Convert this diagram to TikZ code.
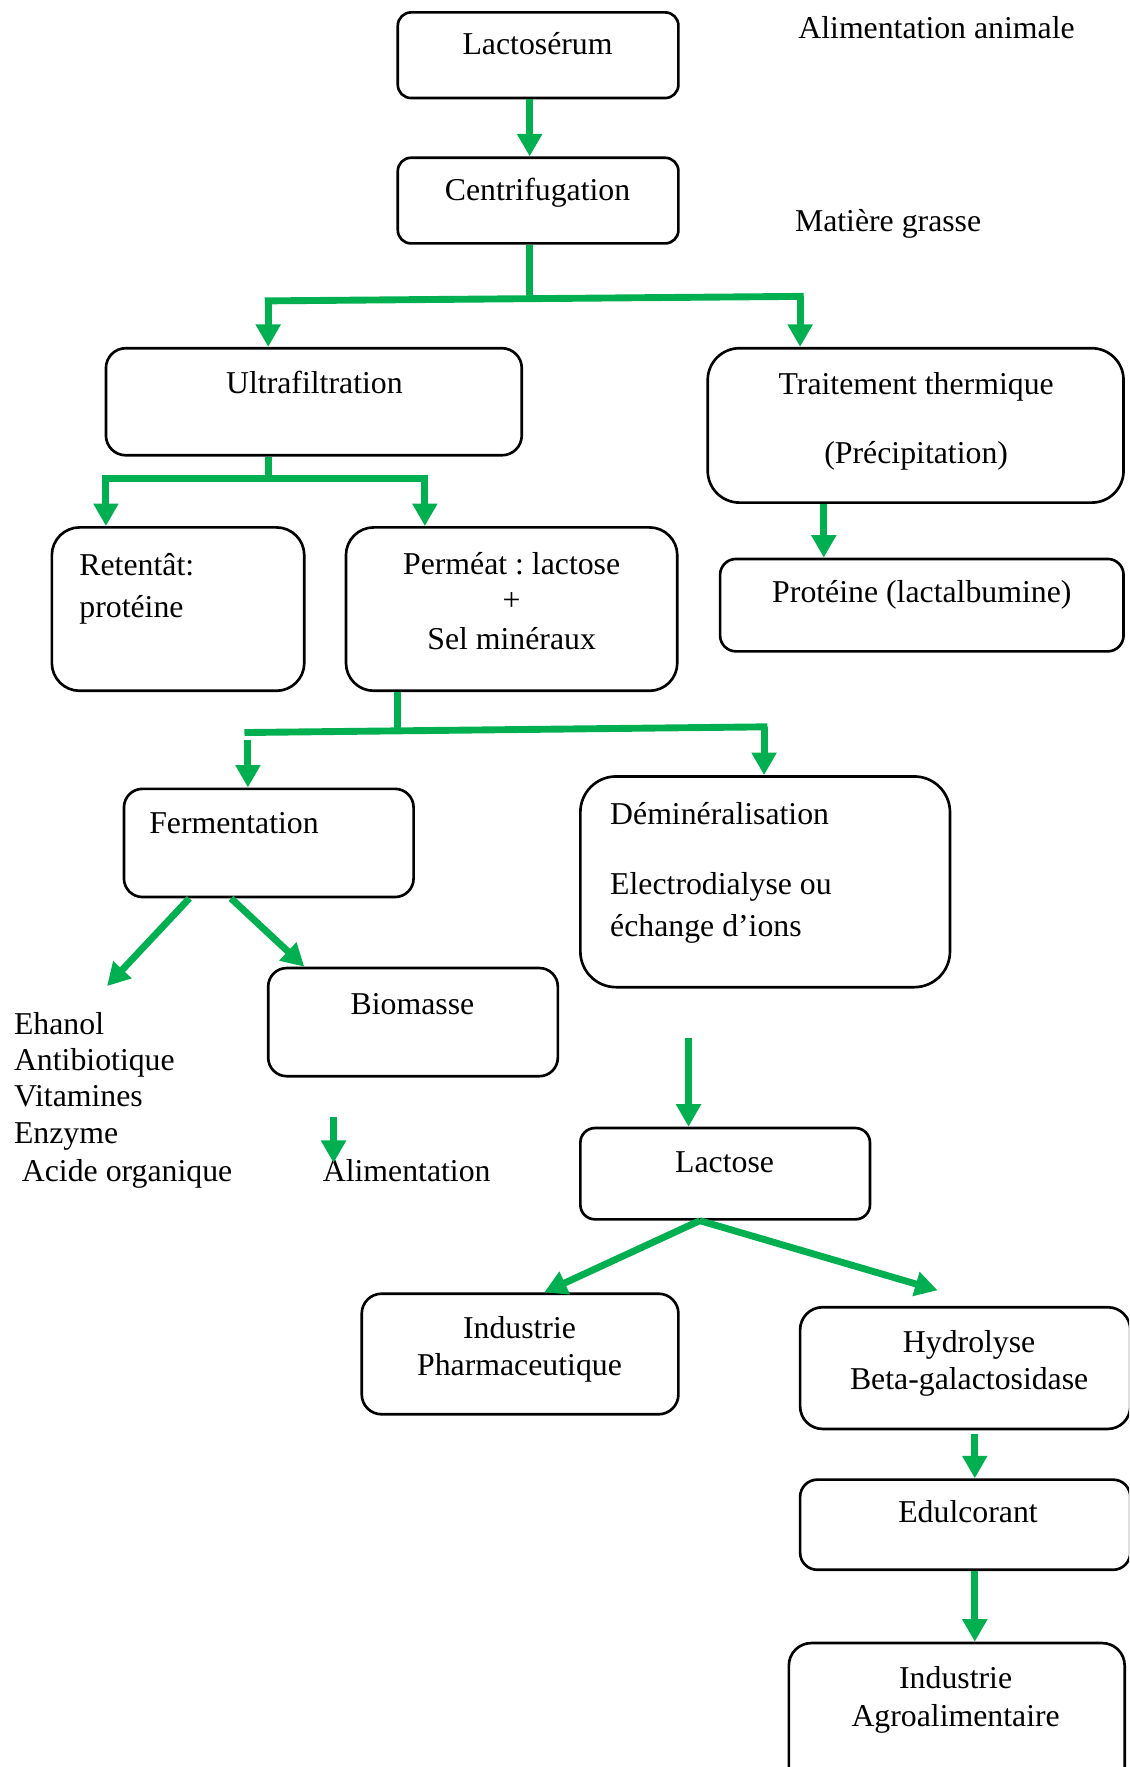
\documentclass[tikz,border=0pt]{standalone}
\usepackage{fontspec}
\setmainfont{Liberation Serif}
\usetikzlibrary{arrows.meta,fit,calc}
\definecolor{flow}{HTML}{00B050}
\frenchspacing
\begin{document}
\begin{tikzpicture}[x=0.4255pt,y=-0.4255pt,
  box/.style={draw=black, line width=1pt, inner sep=0pt, rounded corners=#1},
  box/.default=6pt,
  lbl/.style={inner sep=0pt, anchor=base, font=\fontsize{12}{13.8}\selectfont},
  lbll/.style={lbl, anchor=base west},
  link/.style={draw=flow, line width=2.6pt},
  hlink/.style={link, line cap=rect},
  arr/.style={link, -{Triangle[width=9pt,length=8.5pt]}},
]
\useasboundingbox (0,0) rectangle (1002,1568);
\clip (0,0) rectangle (1002,1568);

% ---------- boxes ----------
\node[box=5pt,   fit={(353,11) (602,87)}]     (lacto)  {};
\node[box=5pt,   fit={(353,140) (602,216)}]   (centri) {};
\node[box=7.5pt, fit={(94,309) (463,404)}]    (ultra)  {};
\node[box=12pt,  fit={(628,309) (997,446)}]   (thermo) {};
\node[box=6pt,   fit={(639,496) (997,578)}]   (prot)   {};
\node[box=10.5pt,fit={(46,468) (270,613)}]    (reten)  {};
\node[box=10.5pt,fit={(307,468) (601,613)}]   (perm)   {};
\node[box=7pt,   fit={(110,700) (367,796)}]   (ferm)   {};
\node[box=13.5pt,fit={(515,689) (843,876)}]   (demin)  {};
\node[box=7pt,   fit={(238,859) (495,955)}]   (bio)    {};
\node[box=5.5pt, fit={(515,1001) (772,1082)}] (lact)   {};
\node[box=7.5pt, fit={(321,1148) (602,1255)}] (pharma) {};
\node[box=8.5pt, fit={(710,1160) (1003,1268)}](hydro)  {};
\node[box=6.5pt, fit={(710,1313) (1003,1393)}](edul)   {};
\node[box=8.5pt, fit={(700,1458) (998,1590)}] (agro)   {};

% ---------- texts ----------
\node[lbl]  (lacto-t)  at (477,48)  {Lactosérum};
\node[lbl]  (centri-t) at (477,178) {Centrifugation};
\node[lbll] (anim-t)   at (708,34)  {Alimentation animale};
\node[lbll] (mg-t)     at (705,205) {Matière grasse};
\node[lbl]  (ultra-t)  at (279,349) {Ultrafiltration};
\node[lbl]  (thermo-t1) at (813,350) {Traitement thermique};
\node[lbl]  (thermo-t2) at (813,411) {(Précipitation)};
\node[lbl]  (prot-t)   at (818,535) {Protéine (lactalbumine)};
\node[lbll] (reten-t1) at (70,511)  {Retentât:};
\node[lbll] (reten-t2) at (70,548)  {protéine};
\node[lbl]  (perm-t1)  at (454,510) {Perméat : lactose};
\node[lbl]  (perm-t2)  at (454,542) {+};
\node[lbl]  (perm-t3)  at (454,576) {Sel minéraux};
\node[lbll] (ferm-t)   at (132,740) {Fermentation};
\node[lbll] (demin-t1) at (541,732) {Déminéralisation};
\node[lbll] (demin-t2) at (541,794) {Electrodialyse ou};
\node[lbll] (demin-t3) at (541,831) {échange d’ions};
\node[lbl]  (bio-t)    at (366,900) {Biomasse};
\node[lbll] (prod-t1)  at (12,918)  {Ehanol};
\node[lbll] (prod-t2)  at (12,950)  {Antibiotique};
\node[lbll] (prod-t3)  at (12,982)  {Vitamines};
\node[lbll] (prod-t4)  at (12,1015) {Enzyme};
\node[lbll] (prod-t5)  at (19,1048) {Acide organique};
\node[lbll] (alim-t)   at (286,1048) {Alimentation};
\node[lbl]  (lact-t)   at (643,1040) {Lactose};
\node[lbl]  (pharma-t1) at (461,1188) {Industrie};
\node[lbl]  (pharma-t2) at (461,1221) {Pharmaceutique};
\node[lbl]  (hydro-t1) at (860,1200) {Hydrolyse};
\node[lbl]  (hydro-t2) at (860,1233) {Beta-galactosidase};
\node[lbl]  (edul-t)   at (859,1351) {Edulcorant};
\node[lbl]  (agro-t1)  at (848,1498) {Industrie};
\node[lbl]  (agro-t2)  at (848,1532) {Agroalimentaire};

% ---------- connectors ----------
% Lactosérum -> Centrifugation
\coordinate (c0) at (470,0);
\draw[arr] (c0 |- lacto.south) -- (c0 |- centri.north);

% Centrifugation -> split
\coordinate (j1)  at (470,265);
\coordinate (j1l) at (238,267);
\coordinate (j1r) at (710,263);
\draw[link]  (c0 |- centri.south) -- (j1);
\draw[hlink] (j1l) -- (j1r);
\draw[arr] (j1l) -- (j1l |- ultra.north);
\draw[arr] (j1r) -- (j1r |- thermo.north);

% Traitement thermique -> Protéine
\coordinate (c1) at (731,0);
\draw[arr] (c1 |- thermo.south) -- (c1 |- prot.north);

% Ultrafiltration -> split
\coordinate (j2)  at (238,425);
\coordinate (j2l) at (94,425);
\coordinate (j2r) at (377,425);
\draw[link]  (j2 |- ultra.south) -- (j2);
\draw[hlink] (j2l) -- (j2r);
\draw[arr] (j2l) -- (j2l |- reten.north);
\draw[arr] (j2r) -- (j2r |- perm.north);

% Perméat -> split
\coordinate (j3)  at (353,648);
\coordinate (j3l) at (220,650);
\coordinate (j3r) at (678,645);
\coordinate (j3d) at (220,657);
\draw[link]  (j3 |- perm.south) -- (j3);
\draw[hlink] (j3l) -- (j3r);
\draw[arr] (j3d) -- (j3d |- ferm.north);
\draw[arr] (j3r) -- (j3r |- demin.north);

% Fermentation -> products / Biomasse
\coordinate (f1)  at (168,0);
\coordinate (f1e) at (95,875);
\coordinate (f2)  at (205,0);
\coordinate (f2e) at (270,0);
\draw[arr] (f1 |- ferm.south) -- (f1e);
\draw[arr] (f2 |- ferm.south) -- (f2e |- bio.north);

% Biomasse -> Alimentation
\coordinate (b1) at (296,991);
\coordinate (b2) at (296,1032);
\draw[arr] (b1) -- (b2);

% Déminéralisation -> Lactose
\coordinate (d1) at (611,921);
\draw[arr] (d1) -- (d1 |- lact.north);

% Lactose -> Pharmaceutique / Hydrolyse
\coordinate (l0)  at (621,0);
\coordinate (l1)  at (483,0);
\coordinate (l2e) at (832,1145);
\draw[arr] (l0 |- lact.south) -- (l1 |- pharma.north);
\draw[arr] (l0 |- lact.south) -- (l2e);

% Hydrolyse -> Edulcorant -> Agroalimentaire
\coordinate (h0) at (865,0);
\draw[arr] ($(h0 |- hydro.south)+(0,3)$) -- (h0 |- edul.north);
\draw[arr] (h0 |- edul.south) -- (h0 |- agro.north);
\end{tikzpicture}
\end{document}
